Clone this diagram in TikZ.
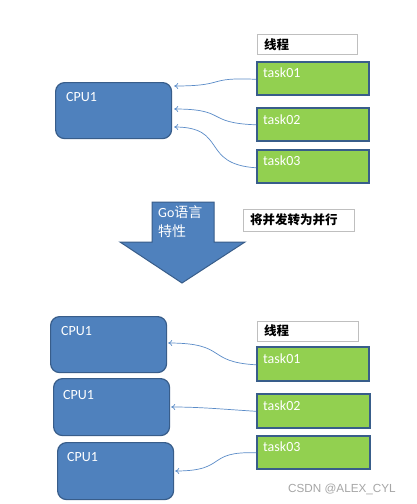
\documentclass[tikz,border=0pt]{standalone}
\usepackage{fontspec}
\usetikzlibrary{arrows.meta}
\setmainfont{Carlito}
\newfontfamily\cjkfont{Noto Sans CJK SC}
\newfontfamily\wmfont{Liberation Sans}
\definecolor{cpublue}{HTML}{4F81BD}
\definecolor{darkborder}{HTML}{385D8A}
\definecolor{taskgreen}{HTML}{92D050}
\definecolor{linkblue}{HTML}{5B8CC8}
\definecolor{labgray}{HTML}{BFBFBF}
\begin{document}
\begin{tikzpicture}[x=1pt,y=-1pt,
  cpubox/.style={draw=darkborder,fill=cpublue,line width=1.2pt,rounded corners=9pt,anchor=north west,inner sep=0pt},
  taskbox/.style={draw=darkborder,fill=taskgreen,line width=1.6pt,anchor=north west,inner sep=0pt,minimum width=112pt,minimum height=33pt},
  labbox/.style={draw=labgray,fill=white,line width=0.8pt,anchor=north west,inner sep=0pt},
  wtext/.style={text=white,font=\fontsize{14}{16}\selectfont,anchor=west,inner sep=0pt},
  cjklab/.style={text=black,font=\cjkfont\bfseries\fontsize{12.5}{14}\selectfont,anchor=west,inner sep=0pt},
  link/.style={draw=linkblue,line width=0.7pt,-{To[length=4pt,width=6pt]}},
]
\fill[white] (0,0) rectangle (416,504);
\useasboundingbox (0,0) rectangle (416,504);

% ---------- top section ----------
\node[labbox,minimum width=100pt,minimum height=20pt] (lab1) at (257,34) {};
\node[cjklab] (lab1t) at (264,44.5) {线程};
\node[cpubox,minimum width=116pt,minimum height=56pt] (cpu0) at (55,82) {};
\node[wtext] (cpu0t) at (66,97) {CPU1};
\node[taskbox] (ta1) at (256,61) {};
\node[wtext] (ta1t) at (263,73) {task01};
\node[taskbox] (ta2) at (256,107) {};
\node[wtext] (ta2t) at (263,120) {task02};
\node[taskbox] (ta3) at (256,149) {};
\node[wtext] (ta3t) at (263,161) {task03};

\draw[link] ([yshift=-1pt]ta1.west) .. controls (205,77) and (228,86) .. ([xshift=2pt,yshift=-4pt]cpu0.north east);
\draw[link] ([yshift=-0.5pt]ta2.west) .. controls (205,123) and (228,109) .. ([xshift=2pt,yshift=-27pt]cpu0.north east);
\draw[link] ([yshift=-1.5pt]ta3.west) .. controls (200,164) and (228,127) .. ([xshift=2pt,yshift=-45pt]cpu0.north east);

% ---------- arrow ----------
\draw[fill=cpublue,draw=darkborder,line width=1pt,line join=miter]
  (152,202) -- (214,202) -- (214,242) -- (245,242) -- (182,283) -- (120,242) -- (152,242) -- cycle;
\node[wtext,anchor=north west,align=left,font=\fontsize{14}{19}\selectfont] (gotext) at (158,206) {Go{\cjkfont 语言}\\{\cjkfont 特性}};
\node[labbox,minimum width=111pt,minimum height=22pt] (lab2) at (243,209) {};
\node[cjklab] (lab2t) at (250,220) {将并发转为并行};

% ---------- bottom section ----------
\node[cpubox,minimum width=116pt,minimum height=56pt] (cpa) at (50,316) {};
\node[wtext] (cpat) at (61,331) {CPU1};
\node[cpubox,minimum width=116pt,minimum height=57pt] (cpb) at (53,378) {};
\node[wtext] (cpbt) at (63,395) {CPU1};
\node[cpubox,minimum width=116pt,minimum height=57pt] (cpc) at (57,442) {};
\node[wtext] (cpct) at (67,457) {CPU1};

\node[labbox,minimum width=101pt,minimum height=20pt] (lab3) at (257,321) {};
\node[cjklab] (lab3t) at (264,331) {线程};
\node[taskbox,minimum height=34pt] (tb1) at (256,346) {};
\node[wtext] (tb1t) at (263,359) {task01};
\node[taskbox,minimum width=113pt,minimum height=34pt] (tb2) at (256,393) {};
\node[wtext] (tb2t) at (263,406) {task02};
\node[taskbox,minimum width=113pt,minimum height=33pt] (tb3) at (256,435) {};
\node[wtext] (tb3t) at (263,447) {task03};

\draw[link] ([yshift=-1pt]tb1.west) .. controls (205,362) and (228,343) .. ([xshift=1pt,yshift=-27pt]cpa.north east);
\draw[link] ([yshift=-0.5pt]tb2.west) .. controls (220,409) and (200,407) .. ([xshift=1pt,yshift=-29pt]cpb.north east);
\draw[link] ([yshift=-0.5pt]tb3.west) .. controls (205,451) and (228,471) .. ([xshift=1pt,yshift=-29pt]cpc.north east);

\node[text=gray!70,font=\wmfont\fontsize{11.7}{13}\selectfont,anchor=west,inner sep=0pt] (wm) at (288,489) {CSDN @ALEX\_CYL};
\end{tikzpicture}
\end{document}
